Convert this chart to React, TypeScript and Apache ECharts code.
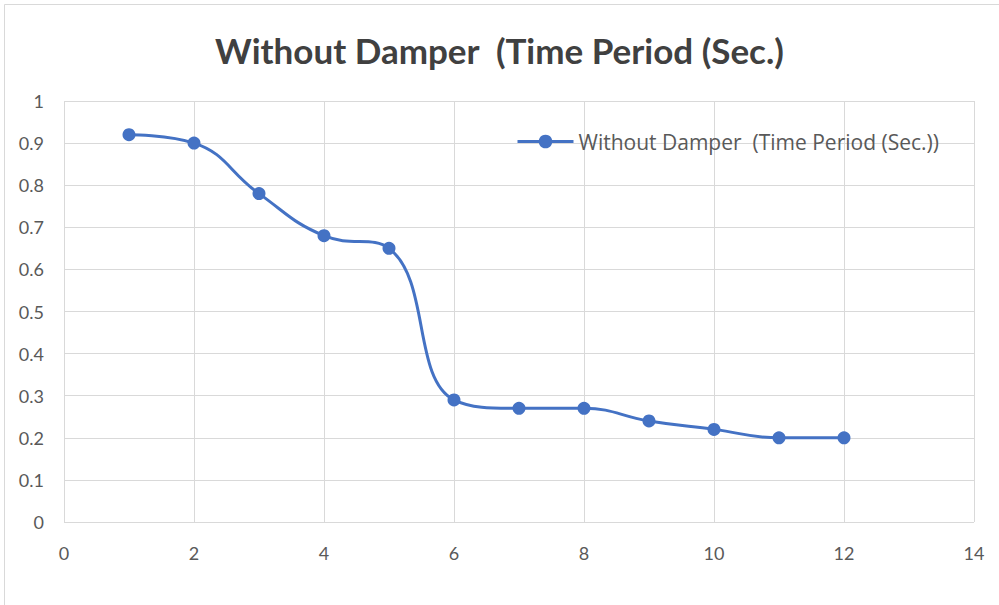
import React, { useEffect, useRef } from "react";
import * as echarts from "echarts";

const xValues = [1, 2, 3, 4, 5, 6, 7, 8, 9, 10, 11, 12];
const yValues = [0.92, 0.9, 0.78, 0.68, 0.65, 0.29, 0.27, 0.27, 0.24, 0.22, 0.2, 0.2];
const seriesName = "Without Damper  (Time Period (Sec.))";
const titleText = "Without Damper  (Time Period (Sec.)";

export default function App() {
  const ref = useRef<HTMLDivElement>(null);
  useEffect(() => {
    if (!ref.current) return;
    const chart = echarts.init(ref.current, null, { renderer: "svg" });
    const font = "Lato, 'Open Sans', sans-serif";
    chart.setOption({
      animation: false,
      backgroundColor: "#fff",
      graphic: [
        {
          type: "rect",
          shape: { x: 4.5, y: 4.5, width: 1010, height: 620 },
          style: { fill: "none", stroke: "#d9d9d9", lineWidth: 1 },
          silent: true,
        },
      ],
      title: {
        text: titleText,
        left: "center",
        top: 27,
        textStyle: { fontFamily: font, fontSize: 35, fontWeight: "bold", color: "#404040" },
      },
      legend: {
        data: [seriesName],
        left: 511,
        top: 126,
        itemWidth: 56,
        itemHeight: 17,
        itemGap: 4,
        lineStyle: { width: 3 },
        textStyle: { fontFamily: "'Open Sans', sans-serif", fontSize: 21, color: "#595959" },
      },
      grid: { left: 64, right: 25, top: 101, bottom: 83 },
      xAxis: {
        type: "value",
        min: 0,
        max: 14,
        interval: 2,
        axisLine: { show: false },
        axisTick: { show: false },
        splitLine: { show: true, lineStyle: { color: "#d9d9d9", width: 1 } },
        axisLabel: { fontFamily: font, fontSize: 18, color: "#595959", margin: 22 },
      },
      yAxis: {
        type: "value",
        min: 0,
        max: 1,
        interval: 0.1,
        axisLine: { show: false },
        axisTick: { show: false },
        splitLine: { show: true, lineStyle: { color: "#d9d9d9", width: 1 } },
        axisLabel: { fontFamily: font, fontSize: 18, color: "#595959", margin: 20 },
      },
      series: [
        {
          name: seriesName,
          type: "line",
          smooth: 0.45,
          data: xValues.map((x, i) => [x, yValues[i]]),
          symbol: "circle",
          symbolSize: 13,
          lineStyle: { color: "#4472C4", width: 3 },
          itemStyle: { color: "#4472C4" },
        },
      ],
    });
    return () => chart.dispose();
  }, []);
  return <div ref={ref} style={{ width: 999, height: 605, position: "absolute", left: 0, top: 0 }} />;
}
